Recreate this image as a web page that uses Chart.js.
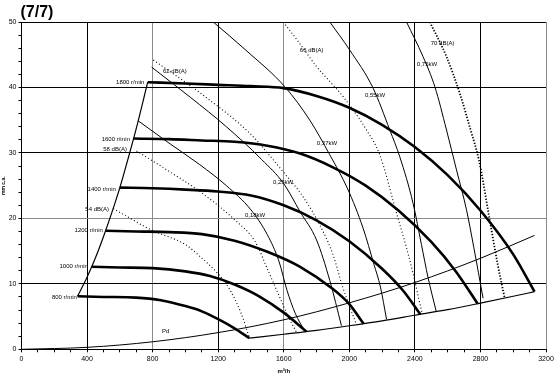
<!DOCTYPE html>
<html>
<head>
<meta charset="utf-8">
<script src="https://cdn.jsdelivr.net/npm/chart.js@4.4.1/dist/chart.umd.min.js"></script>
<style>
  html, body { margin: 0; padding: 0; background: #fff; }
  #wrap { width: 560px; height: 377px; }
</style>
</head>
<body>
<div id="wrap"><canvas id="fanChart"></canvas></div>
<script>
// --- fan curves, airflow m3/h vs pressure mm c.a. ---
const q1800 = [770, 1000, 1200, 1400, 1600, 1800, 2000, 2200, 2400, 2600, 2800, 3000, 3130];
const p1800 = [40.8, 40.6, 40.4, 40.2, 39.9, 38.7, 36.9, 34.3, 30.9, 26.6, 21.2, 14.5, 8.8];
const q1600 = [684, 900, 1100, 1300, 1500, 1700, 1900, 2100, 2300, 2500, 2650, 2782];
const p1600 = [32.2, 32.1, 31.9, 31.7, 31.1, 29.9, 27.8, 25.0, 21.2, 16.4, 11.9, 7.0];
const q1400 = [599, 800, 1000, 1200, 1400, 1600, 1800, 2000, 2200, 2330, 2434];
const p1400 = [24.7, 24.6, 24.4, 24.1, 23.5, 22.0, 19.7, 16.5, 12.3, 8.9, 5.3];
const q1200 = [513, 700, 900, 1100, 1300, 1500, 1700, 1900, 2000, 2087];
const p1200 = [18.1, 18.0, 17.9, 17.6, 16.6, 14.9, 12.6, 9.2, 6.9, 3.9];
const q1000 = [428, 600, 800, 1000, 1150, 1300, 1450, 1600, 1739];
const p1000 = [12.6, 12.5, 12.4, 11.9, 11.2, 9.9, 8.1, 5.6, 2.7];
const q800 = [342, 500, 700, 850, 1000, 1100, 1200, 1300, 1391];
const p800 = [8.1, 8.0, 7.9, 7.5, 6.6, 5.8, 4.6, 3.2, 1.7];

// limits
const qStall = [342, 400, 450, 500, 550, 600, 650, 700, 770];
const pStall = [8.1, 11.0, 13.9, 17.2, 20.8, 24.7, 29.1, 33.7, 40.8];
const qEnd = [1391, 1600, 1800, 2000, 2200, 2400, 2600, 2800, 3000, 3130];
const pEnd = [1.7, 2.3, 2.9, 3.6, 4.35, 5.2, 6.05, 7.05, 8.1, 8.8];
const qPd = [0, 400, 800, 1200, 1600, 2000, 2400, 2800, 3130];
const pPd = [0, 0.3, 1.15, 2.55, 4.5, 7.1, 10.2, 13.9, 17.4];

// sound levels dB(A)
const q54 = [560, 794, 1000, 1088, 1200, 1271, 1340, 1391];
const p54 = [21.5, 18.2, 16.0, 14.2, 11.5, 9.1, 5.5, 1.7];
const q58 = [702, 900, 1088, 1300, 1424, 1505, 1566, 1627, 1680];
const p58 = [30.3, 27.2, 24.1, 19.8, 16.5, 12.0, 8.5, 5.0, 2.5];
const q62 = [804, 1088, 1393, 1500, 1600, 1718, 1830, 1900, 1960, 2040];
const p62 = [44.2, 39.2, 33.0, 30.0, 27.0, 23.3, 18.5, 14.5, 9.5, 4.0];
const q66 = [1597, 1698, 1800, 1962, 2105, 2186, 2288, 2369, 2445];
const p66 = [50, 46.7, 43.2, 38.6, 33.5, 29.7, 20.8, 13.6, 5.4];
const q70 = [2491, 2593, 2674, 2740, 2790, 2857, 2905, 2948];
const p70 = [50, 44.7, 39.1, 33.5, 29.0, 19.7, 13.0, 7.8];

// absorbed power kW
const qK18 = [712, 900, 1088, 1250, 1400, 1500, 1570, 1620, 1670, 1730];
const pK18 = [34.9, 31.5, 28.2, 25.0, 21.3, 17.5, 13.5, 9.0, 5.5, 2.7];
const qK25 = [794, 1030, 1250, 1465, 1600, 1700, 1800, 1881, 1952];
const pK25 = [43.1, 38.5, 34.0, 29.0, 25.3, 21.0, 16.7, 10.5, 3.6];
const qK37 = [1170, 1364, 1607, 1759, 1881, 1990, 2084, 2150, 2190, 2227];
const pK37 = [50, 45.8, 40.1, 35.0, 29.7, 24.5, 18.5, 13.0, 9.5, 4.6];
const qK55 = [1881, 2003, 2145, 2247, 2308, 2389, 2440, 2480, 2530];
const pK55 = [50, 45.7, 39.9, 33.5, 29.4, 22.3, 16.0, 11.0, 5.8];
const qK75 = [2349, 2450, 2522, 2593, 2654, 2715, 2760, 2816];
const pK75 = [50, 44.7, 40.1, 33.5, 27.4, 21.3, 15.5, 7.8];

const curveLabels = [
    ['1800 r/min', 750, 40.8, 'right'],
    ['1600 r/min', 662, 32.1, 'right'],
    ['1400 r/min', 576, 24.5, 'right'],
    ['1200 r/min', 497, 18.2, 'right'],
    ['1000 r/min', 405, 12.6, 'right'],
    ['800 r/min', 338, 8.0, 'right'],
    ['58 dB(A)', 643, 30.6, 'right'],
    ['54 dB(A)', 534, 21.4, 'right'],
    ['62 dB(A)', 863, 42.5, 'left'],
    ['66 dB(A)', 1698, 45.7, 'left'],
    ['70 dB(A)', 2497, 46.8, 'left'],
    ['0,75kW', 2412, 43.6, 'left'],
    ['0,55kW', 2095, 38.8, 'left'],
    ['0,37kW', 1802, 31.5, 'left'],
    ['0,25kW', 1534, 25.5, 'left'],
    ['0,18kW', 1363, 20.5, 'left'],
    ['Pd', 857, 2.8, 'left']
];

const pts = (q, p) => q.map((x, i) => ({ x: x, y: p[i] }));

const thick = { borderWidth: 2.6 };
const thin = { borderWidth: 1 };
const dotted = { borderWidth: 1.1, borderDash: [1, 2.4] };

const series = [
    [q1800, p1800, thick], [q1600, p1600, thick], [q1400, p1400, thick],
    [q1200, p1200, thick], [q1000, p1000, thick], [q800, p800, thick],
    [qStall, pStall, { borderWidth: 1.2 }], [qEnd, pEnd, { borderWidth: 1.2 }], [qPd, pPd, thin],
    [q54, p54, dotted], [q58, p58, dotted], [q62, p62, dotted], [q66, p66, dotted],
    [q70, p70, { borderWidth: 1.8, borderDash: [1.3, 1.7] }],
    [qK18, pK18, thin], [qK25, pK25, thin], [qK37, pK37, thin], [qK55, pK55, thin], [qK75, pK75, thin]
];

const labelPlugin = {
    id: 'labelPlugin',
    afterDatasetsDraw(chart) {
        const { ctx, scales: { x, y }, chartArea } = chart;
        ctx.save();
        ctx.fillStyle = '#000';
        ctx.textBaseline = 'middle';
        ctx.font = '6px Arial, "Liberation Sans"';
        curveLabels.forEach(([text, q, p, align]) => {
            ctx.textAlign = align;
            ctx.fillText(text, x.getPixelForValue(q), y.getPixelForValue(p));
        });
        ctx.font = 'bold 16px Arial, "Liberation Sans"';
        ctx.textAlign = 'left';
        ctx.fillText('(7/7)', chartArea.left - 1, 13);
        ctx.restore();
    }
};

new Chart(document.getElementById('fanChart'), {
    type: 'scatter',
    data: {
        datasets: series.map(([q, p, style]) => Object.assign({
            data: pts(q, p),
            showLine: true,
            borderColor: '#000',
            pointRadius: 0,
            cubicInterpolationMode: 'monotone',
            fill: false
        }, style))
    },
    options: {
        responsive: true,
        maintainAspectRatio: false,
        animation: false,
        layout: { padding: { top: 22, right: 14, left: 0, bottom: 0 } },
        plugins: { legend: { display: false }, tooltip: { enabled: false } },
        scales: {
            x: {
                type: 'linear', min: 0, max: 3200,
                afterFit: s => { s.height = 27.7; },
                ticks: {
                    stepSize: 100, autoSkip: false, maxRotation: 0, padding: 3,
                    color: '#000', font: { size: 7, family: 'Arial' },
                    callback: v => (v % 400 === 0 ? v : '')
                },
                grid: {
                    color: c => (c.tick.value % 400 !== 0 ? 'rgba(0,0,0,0)' :
                        ([800, 1600, 3200].includes(c.tick.value) ? '#8a8a8a' : '#000')),
                    tickColor: '#000', tickLength: 3
                },
                border: { color: '#000' },
                title: { display: true, text: 'm³/h', color: '#000', font: { size: 6, weight: 'bold', family: 'Arial' }, padding: { top: 0, bottom: 2 } }
            },
            y: {
                min: 0, max: 50,
                afterFit: s => { s.width = 21.5; },
                ticks: {
                    stepSize: 2, autoSkip: false, padding: 2,
                    color: '#000', font: { size: 7, family: 'Arial' },
                    callback: v => (v % 10 === 0 ? v : '')
                },
                grid: {
                    color: c => (c.tick.value % 10 !== 0 ? 'rgba(0,0,0,0)' :
                        (c.tick.value === 20 ? '#8a8a8a' : '#000')),
                    tickColor: '#000', tickLength: 3
                },
                border: { color: '#000' },
                title: { display: true, text: 'mm c.a.', color: '#000', font: { size: 5, weight: 'bold', family: 'Arial' }, padding: 1 }
            }
        }
    },
    plugins: [labelPlugin]
});
</script>
</body>
</html>
